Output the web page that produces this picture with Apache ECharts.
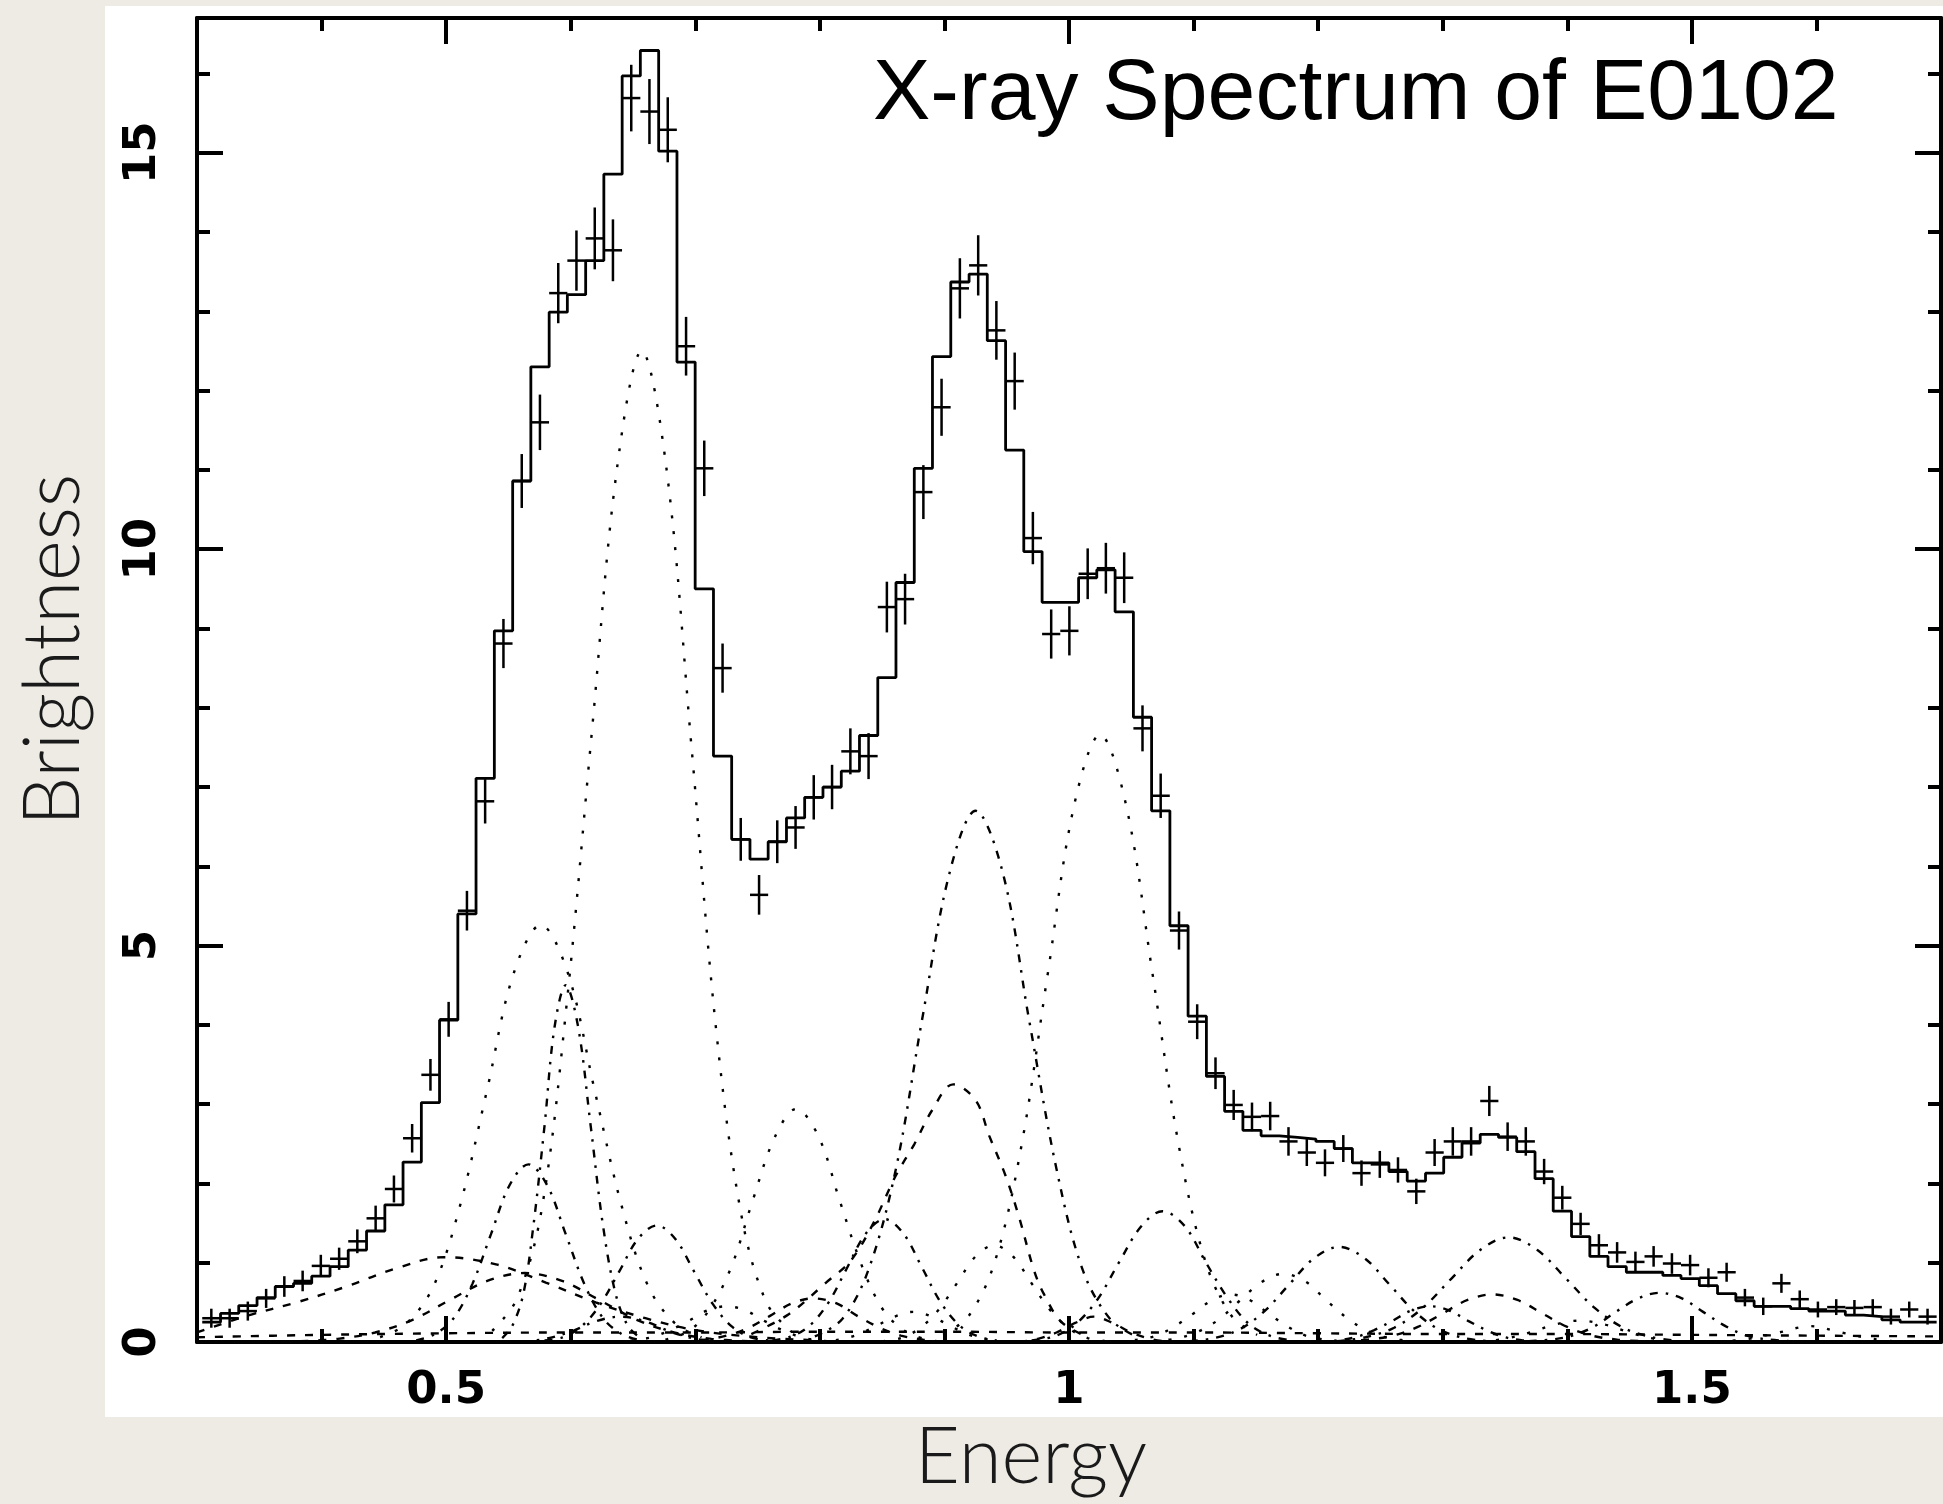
<!DOCTYPE html>
<html>
<head>
<meta charset="utf-8">
<script src="https://cdn.jsdelivr.net/npm/echarts@6/dist/echarts.min.js"></script>
<style>
html,body{margin:0;padding:0;background:#eeebe5;}
#chart{width:1943px;height:1504px;}
</style>
</head>
<body>
<div id="chart"></div>
<script>
// ---------- data ----------
const energyKeV = [
0.3115,0.3262,0.3408,0.3555,0.3701,0.3848,0.3994,0.4141,0.4287,0.4434,
0.4581,0.4727,0.4874,0.5020,0.5167,0.5313,0.5460,0.5607,0.5753,0.5900,
0.6046,0.6193,0.6339,0.6486,0.6632,0.6779,0.6926,0.7072,0.7219,0.7365,
0.7512,0.7658,0.7805,0.7951,0.8098,0.8245,0.8391,0.8538,0.8684,0.8831,
0.8977,0.9124,0.9271,0.9417,0.9564,0.9710,0.9857,1.0003,1.0150,1.0296,
1.0443,1.0590,1.0736,1.0883,1.1029,1.1176,1.1322,1.1469,1.1615,1.1762,
1.1909,1.2055,1.2202,1.2348,1.2495,1.2641,1.2788,1.2935,1.3081,1.3228,
1.3374,1.3521,1.3667,1.3814,1.3960,1.4107,1.4254,1.4400,1.4547,1.4693,
1.4840,1.4986,1.5133,1.5279,1.5426,1.5573,1.5719,1.5866,1.6012,1.6159,
1.6305,1.6452,1.6598,1.6745,1.6892];
const binHalfWidth = 0.0073;

const modelFit = [
0.25,0.36,0.46,0.56,0.70,0.74,0.83,0.95,1.16,1.40,
1.73,2.27,3.02,4.06,5.40,7.11,8.97,10.86,12.30,12.99,
13.21,13.64,14.73,15.97,16.29,15.02,12.36,9.50,7.39,6.34,
6.09,6.31,6.61,6.87,7.00,7.20,7.65,8.38,9.58,11.02,
12.43,13.37,13.47,12.63,11.25,9.97,9.33,9.33,9.64,9.74,
9.21,7.88,6.70,5.25,4.11,3.35,2.91,2.67,2.60,2.58,
2.56,2.53,2.44,2.26,2.26,2.15,2.03,2.13,2.33,2.51,
2.62,2.58,2.40,2.06,1.65,1.33,1.08,0.95,0.88,0.88,
0.84,0.80,0.71,0.61,0.52,0.45,0.45,0.42,0.39,0.39,
0.34,0.32,0.28,0.25,0.25];

const observed = [
0.30,0.30,0.39,0.55,0.70,0.77,0.96,1.05,1.27,1.56,
1.93,2.57,3.37,4.07,5.44,6.82,8.81,10.86,11.60,13.23,
13.64,13.92,13.77,15.69,15.52,15.29,12.56,11.02,8.50,6.34,
5.64,6.31,6.49,6.87,7.00,7.45,7.39,9.27,9.37,10.72,
11.79,13.29,13.58,12.76,12.12,10.14,8.93,8.97,9.69,9.76,
9.64,7.74,6.89,5.19,4.04,3.39,2.99,2.84,2.85,2.53,
2.39,2.26,2.44,2.13,2.24,2.17,1.90,2.39,2.53,2.53,
3.04,2.59,2.53,2.15,1.82,1.49,1.22,1.13,1.01,1.08,
0.99,0.97,0.81,0.88,0.56,0.45,0.74,0.54,0.41,0.44,
0.43,0.44,0.32,0.41,0.32];

const obsError = [
0.12,0.12,0.12,0.12,0.13,0.13,0.14,0.14,0.15,0.16,
0.17,0.18,0.20,0.22,0.25,0.28,0.31,0.34,0.35,0.38,
0.38,0.39,0.39,0.42,0.41,0.41,0.37,0.35,0.31,0.27,
0.25,0.27,0.27,0.28,0.28,0.29,0.29,0.32,0.32,0.34,
0.36,0.38,0.38,0.37,0.36,0.33,0.31,0.31,0.32,0.32,
0.32,0.29,0.28,0.24,0.22,0.20,0.19,0.18,0.18,0.18,
0.17,0.17,0.17,0.16,0.17,0.16,0.16,0.17,0.18,0.18,
0.19,0.18,0.18,0.16,0.15,0.14,0.14,0.13,0.13,0.13,
0.13,0.13,0.12,0.12,0.11,0.11,0.12,0.11,0.10,0.10,
0.10,0.10,0.10,0.10,0.10];

// model line components, [energy, brightness]
const comp1 = [[0.537,0.14],[0.557,0.55],[0.577,1.7],[0.597,4.3],[0.617,7.7],[0.637,11.0],[0.657,12.5],[0.677,11.0],[0.697,7.5],[0.717,3.9],[0.737,1.6],[0.757,0.5],[0.777,0.13]];
const comp2 = [[0.447,0.06],[0.468,0.23],[0.490,0.71],[0.511,1.71],[0.533,3.19],[0.554,4.64],[0.576,5.26],[0.598,4.64],[0.619,3.19],[0.641,1.71],[0.662,0.71],[0.684,0.23],[0.705,0.06]];
const comp3 = [[0.545,0.05],[0.553,0.2],[0.562,0.61],[0.570,1.46],[0.579,2.73],[0.587,3.97],[0.596,4.5],[0.606,3.97],[0.616,2.73],[0.626,1.46],[0.636,0.61],[0.646,0.2],[0.656,0.05]];
const comp4 = [[0.476,0.02],[0.491,0.1],[0.506,0.3],[0.521,0.73],[0.536,1.36],[0.551,1.98],[0.566,2.24],[0.581,1.98],[0.596,1.36],[0.611,0.73],[0.626,0.3],[0.641,0.1],[0.656,0.02]];
const comp5 = [[0.30,0.12],[0.34,0.33],[0.38,0.5],[0.42,0.7],[0.46,0.93],[0.498,1.07],[0.54,0.98],[0.58,0.75],[0.62,0.5],[0.66,0.3],[0.70,0.15],[0.75,0.06],[0.80,0.02]];
const comp6 = [[0.383,0.01],[0.413,0.04],[0.443,0.12],[0.473,0.28],[0.503,0.53],[0.533,0.77],[0.563,0.87],[0.593,0.77],[0.623,0.53],[0.653,0.28],[0.683,0.12],[0.713,0.04],[0.743,0.01]];
const comp7 = [[0.579,0.02],[0.594,0.06],[0.609,0.2],[0.624,0.48],[0.639,0.89],[0.654,1.3],[0.669,1.47],[0.684,1.3],[0.699,0.89],[0.714,0.48],[0.729,0.2],[0.744,0.06],[0.759,0.02]];
const comp8 = [[0.676,0.03],[0.694,0.13],[0.711,0.4],[0.729,0.95],[0.746,1.78],[0.764,2.59],[0.781,2.94],[0.799,2.59],[0.816,1.78],[0.834,0.95],[0.851,0.4],[0.869,0.13],[0.886,0.03]];
const comp9 = [[0.796,0.07],[0.818,0.29],[0.839,0.91],[0.861,2.18],[0.882,4.06],[0.904,5.91],[0.925,6.7],[0.947,5.91],[0.968,4.06],[0.990,2.18],[1.011,0.91],[1.033,0.29],[1.054,0.07]];
const comp10 = [[0.899,0.09],[0.920,0.34],[0.941,1.04],[0.962,2.49],[0.983,4.65],[1.004,6.76],[1.025,7.66],[1.046,6.76],[1.067,4.65],[1.088,2.49],[1.109,1.04],[1.130,0.34],[1.151,0.09]];
const comp11 = [[0.745,0.1],[0.775,0.35],[0.805,0.75],[0.825,1.03],[0.843,1.5],[0.861,2.1],[0.876,2.5],[0.890,2.92],[0.907,3.25],[0.925,3.05],[0.936,2.6],[0.949,2.1],[0.960,1.57],[0.972,0.9],[0.980,0.6],[0.994,0.25],[1.014,0.07]];
const comp12 = [[0.762,0.02],[0.777,0.07],[0.792,0.21],[0.807,0.5],[0.822,0.94],[0.837,1.37],[0.852,1.55],[0.867,1.37],[0.882,0.94],[0.897,0.5],[0.912,0.21],[0.927,0.07],[0.942,0.02]];
const comp13 = [[0.850,0.01],[0.865,0.05],[0.880,0.17],[0.895,0.4],[0.910,0.74],[0.925,1.08],[0.940,1.22],[0.955,1.08],[0.970,0.74],[0.985,0.4],[1.000,0.17],[1.015,0.05],[1.030,0.01]];
const comp14 = [[0.970,0.02],[0.988,0.07],[1.005,0.22],[1.023,0.54],[1.040,1.0],[1.058,1.46],[1.075,1.65],[1.093,1.46],[1.110,1.0],[1.128,0.54],[1.145,0.22],[1.163,0.07],[1.180,0.02]];
const comp15 = [[1.067,0.01],[1.085,0.04],[1.102,0.12],[1.120,0.28],[1.137,0.52],[1.155,0.76],[1.172,0.86],[1.190,0.76],[1.207,0.52],[1.225,0.28],[1.242,0.12],[1.260,0.04],[1.277,0.01]];
const comp16 = [[1.097,0.01],[1.117,0.05],[1.137,0.16],[1.157,0.39],[1.177,0.73],[1.197,1.06],[1.217,1.2],[1.237,1.06],[1.257,0.73],[1.277,0.39],[1.297,0.16],[1.317,0.05],[1.337,0.01]];
const comp17 = [[1.215,0.01],[1.238,0.06],[1.261,0.18],[1.284,0.43],[1.307,0.8],[1.330,1.16],[1.353,1.32],[1.376,1.16],[1.399,0.8],[1.422,0.43],[1.445,0.18],[1.468,0.06],[1.491,0.01]];
const comp18 = [[1.22,0.01],[1.24,0.03],[1.26,0.08],[1.28,0.19],[1.30,0.36],[1.32,0.53],[1.34,0.6],[1.36,0.53],[1.38,0.36],[1.40,0.19],[1.42,0.08],[1.44,0.03],[1.46,0.01]];
const comp19 = [[1.369,0.01],[1.387,0.03],[1.404,0.08],[1.422,0.2],[1.439,0.38],[1.457,0.55],[1.474,0.62],[1.492,0.55],[1.509,0.38],[1.527,0.2],[1.544,0.08],[1.562,0.03],[1.579,0.01]];
const weak1 = [[0.635,0.0],[0.650,0.02],[0.665,0.06],[0.680,0.15],[0.695,0.27],[0.710,0.4],[0.725,0.45],[0.740,0.4],[0.755,0.27],[0.770,0.15],[0.785,0.06],[0.800,0.02],[0.815,0.0]];
const weak2 = [[0.690,0.0],[0.708,0.03],[0.725,0.08],[0.743,0.18],[0.760,0.33],[0.778,0.49],[0.795,0.55],[0.813,0.49],[0.830,0.33],[0.848,0.18],[0.865,0.08],[0.883,0.03],[0.900,0.0]];
const weak3 = [[1.040,0.0],[1.055,0.03],[1.070,0.08],[1.085,0.2],[1.100,0.36],[1.115,0.53],[1.130,0.6],[1.145,0.53],[1.160,0.36],[1.175,0.2],[1.190,0.08],[1.205,0.03],[1.220,0.0]];
const weak4 = [[1.200,0.0],[1.215,0.02],[1.230,0.06],[1.245,0.15],[1.260,0.27],[1.275,0.4],[1.290,0.45],[1.305,0.4],[1.320,0.27],[1.335,0.15],[1.350,0.06],[1.365,0.02],[1.380,0.0]];
const weak5 = [[0.800,0.0],[0.815,0.03],[0.830,0.09],[0.845,0.2],[0.860,0.32],[0.875,0.38],[0.890,0.32],[0.905,0.2],[0.920,0.09],[0.935,0.03],[0.950,0.0]];
const weak6 = [[0.960,0.0],[0.975,0.04],[0.990,0.12],[1.005,0.24],[1.020,0.32],[1.035,0.24],[1.050,0.12],[1.065,0.04],[1.080,0.0]];
const weak7 = [[1.520,0.0],[1.545,0.04],[1.570,0.12],[1.595,0.2],[1.620,0.12],[1.645,0.04],[1.670,0.0]];
const weak8 = [[0.560,0.0],[0.580,0.04],[0.600,0.13],[0.620,0.26],[0.640,0.32],[0.660,0.26],[0.680,0.13],[0.700,0.04],[0.720,0.0]];
const weak9 = [[1.330,0.0],[1.350,0.04],[1.370,0.12],[1.390,0.22],[1.410,0.27],[1.430,0.22],[1.450,0.12],[1.470,0.04],[1.490,0.0]];
const continuum = [[0.30,0.06],[0.40,0.09],[0.50,0.11],[0.60,0.12],[0.70,0.12],[0.80,0.13],[0.90,0.13],[1.00,0.12],[1.10,0.12],[1.20,0.11],[1.30,0.10],[1.40,0.10],[1.50,0.09],[1.60,0.08],[1.70,0.07]];

// axis ticks / labels
const xMajorTicks = [0.5, 1, 1.5];
const xMinorTicks = [0.3,0.4,0.6,0.7,0.8,0.9,1.1,1.2,1.3,1.4,1.6];
const yMajorTicks = [0, 5, 10, 15];
const yMinorTicks = [1,2,3,4,6,7,8,9,11,12,13,14,16];

// ---------- chart ----------
const DOT = [3, 13];
const DASH = [8, 10];
const DASHDOT = [8, 8, 2.5, 8];
const componentList = [
  [comp1, DOT],[comp2, DOT],[comp3, DASHDOT],[comp4, DASHDOT],[comp5, DASH],[comp6, DASH],
  [comp7, DASHDOT],[comp8, DOT],[comp9, DASHDOT],[comp10, DOT],[comp11, DASH],[comp12, DASHDOT],
  [comp13, DOT],[comp14, DASHDOT],[comp15, DOT],[comp16, DASHDOT],[comp17, DASHDOT],[comp18, DASH],
  [comp19, DASHDOT],[weak1, DOT],[weak2, DASH],[weak3, DOT],[weak4, DASHDOT],[weak5, DOT],
  [weak6, DASH],[weak7, DOT],[weak8, DASHDOT],[weak9, DOT],[continuum, DASH]
];

const X_MIN = 0.3, X_MAX = 1.7, Y_MIN = 0, Y_MAX = 16.7;
const LABEL_FONT = { fontFamily: 'DejaVu Sans', fontWeight: 'bold', fontSize: 45, lineHeight: 46, color: '#000' };

function xAxisDef(pos, ticks, len, showLine, showLabel) {
  return {
    type: 'value', position: pos, min: X_MIN, max: X_MAX,
    axisLine: { show: showLine, onZero: false, lineStyle: { color: '#000', width: 4 } },
    axisTick: { show: true, inside: true, length: len, customValues: ticks, lineStyle: { color: '#000', width: 4 } },
    axisLabel: showLabel ? Object.assign({
      show: true, customValues: ticks, margin: 26, formatter: v => String(v)
    }, LABEL_FONT) : { show: false },
    splitLine: { show: false }
  };
}
function yAxisDef(pos, ticks, len, showLine, showLabel) {
  return {
    type: 'value', position: pos, min: Y_MIN, max: Y_MAX,
    axisLine: { show: showLine, onZero: false, lineStyle: { color: '#000', width: 4 } },
    axisTick: { show: true, inside: true, length: len, customValues: ticks, lineStyle: { color: '#000', width: 4 } },
    axisLabel: showLabel ? Object.assign({
      show: true, customValues: ticks, rotate: 90, margin: 31, formatter: v => String(v)
    }, LABEL_FONT) : { show: false },
    splitLine: { show: false }
  };
}

const xAxes = [
  xAxisDef('bottom', xMajorTicks, 26, true, true),
  xAxisDef('bottom', xMinorTicks, 13, false, false),
  xAxisDef('top', xMajorTicks, 26, true, false),
  xAxisDef('top', xMinorTicks, 13, false, false)
];
Object.assign(xAxes[0], {
  name: 'Energy', nameLocation: 'middle', nameGap: 72,
  nameTextStyle: { fontFamily: 'Lato', fontWeight: 300, fontSize: 78, color: '#1a1a1a', padding: [0, 76, 0, 0] }
});
const yAxes = [
  yAxisDef('left', yMajorTicks, 26, true, true),
  yAxisDef('left', yMinorTicks, 13, false, false),
  yAxisDef('right', yMajorTicks, 26, true, false),
  yAxisDef('right', yMinorTicks, 13, false, false)
];
Object.assign(yAxes[0], {
  name: 'Brightness', nameLocation: 'middle', nameGap: 104, nameRotate: 90,
  nameTextStyle: { fontFamily: 'Lato', fontWeight: 300, fontSize: 78, color: '#1a1a1a', padding: [0, 0, 0, 60] }
});

// step histogram built from bin edges
const stepData = energyKeV.map((e, i) => [e - binHalfWidth, modelFit[i]]);
stepData.push([energyKeV[energyKeV.length - 1] + binHalfWidth, modelFit[modelFit.length - 1]]);

const series = componentList.map(([pts, dash]) => ({
  type: 'line', data: pts, smooth: 0.35, showSymbol: false, silent: true,
  xAxisIndex: 0, yAxisIndex: 0, z: 2,
  lineStyle: { color: '#000', width: 2.4, type: dash }
}));
series.push({
  type: 'line', data: stepData, step: 'end', showSymbol: false, silent: true,
  xAxisIndex: 0, yAxisIndex: 0, z: 4,
  lineStyle: { color: '#000', width: 2.8 }
});
series.push({
  type: 'custom', xAxisIndex: 0, yAxisIndex: 0, z: 5, silent: true,
  data: energyKeV.map((e, i) => [e, observed[i], obsError[i]]),
  encode: { x: 0, y: 1 },
  renderItem: function (params, api) {
    const x = api.value(0), y = api.value(1), er = api.value(2);
    const l = api.coord([x - binHalfWidth, y]);
    const r = api.coord([x + binHalfWidth, y]);
    const t = api.coord([x, y + er]);
    const b = api.coord([x, y - er]);
    const st = { stroke: '#000', lineWidth: 2.5 };
    return { type: 'group', children: [
      { type: 'line', shape: { x1: l[0], y1: l[1], x2: r[0], y2: r[1] }, style: st },
      { type: 'line', shape: { x1: t[0], y1: t[1], x2: b[0], y2: b[1] }, style: st }
    ]};
  }
});

const chart = echarts.init(document.getElementById('chart'), null, { renderer: 'canvas' });
chart.setOption({
  animation: false,
  backgroundColor: '#eeebe5',
  graphic: [{
    type: 'rect', left: 105, top: 6, z: -10, silent: true,
    shape: { width: 1838, height: 1411 }, style: { fill: '#ffffff' }
  }],
  title: {
    text: 'X-ray Spectrum of E0102', left: 873, top: 52, padding: 0,
    textStyle: { fontFamily: 'Liberation Sans', fontWeight: 'normal', fontSize: 86, lineHeight: 86, color: '#000' }
  },
  grid: { left: 197, right: 2, top: 18, bottom: 162, containLabel: false },
  xAxis: xAxes,
  yAxis: yAxes,
  series: series
});
</script>
</body>
</html>
